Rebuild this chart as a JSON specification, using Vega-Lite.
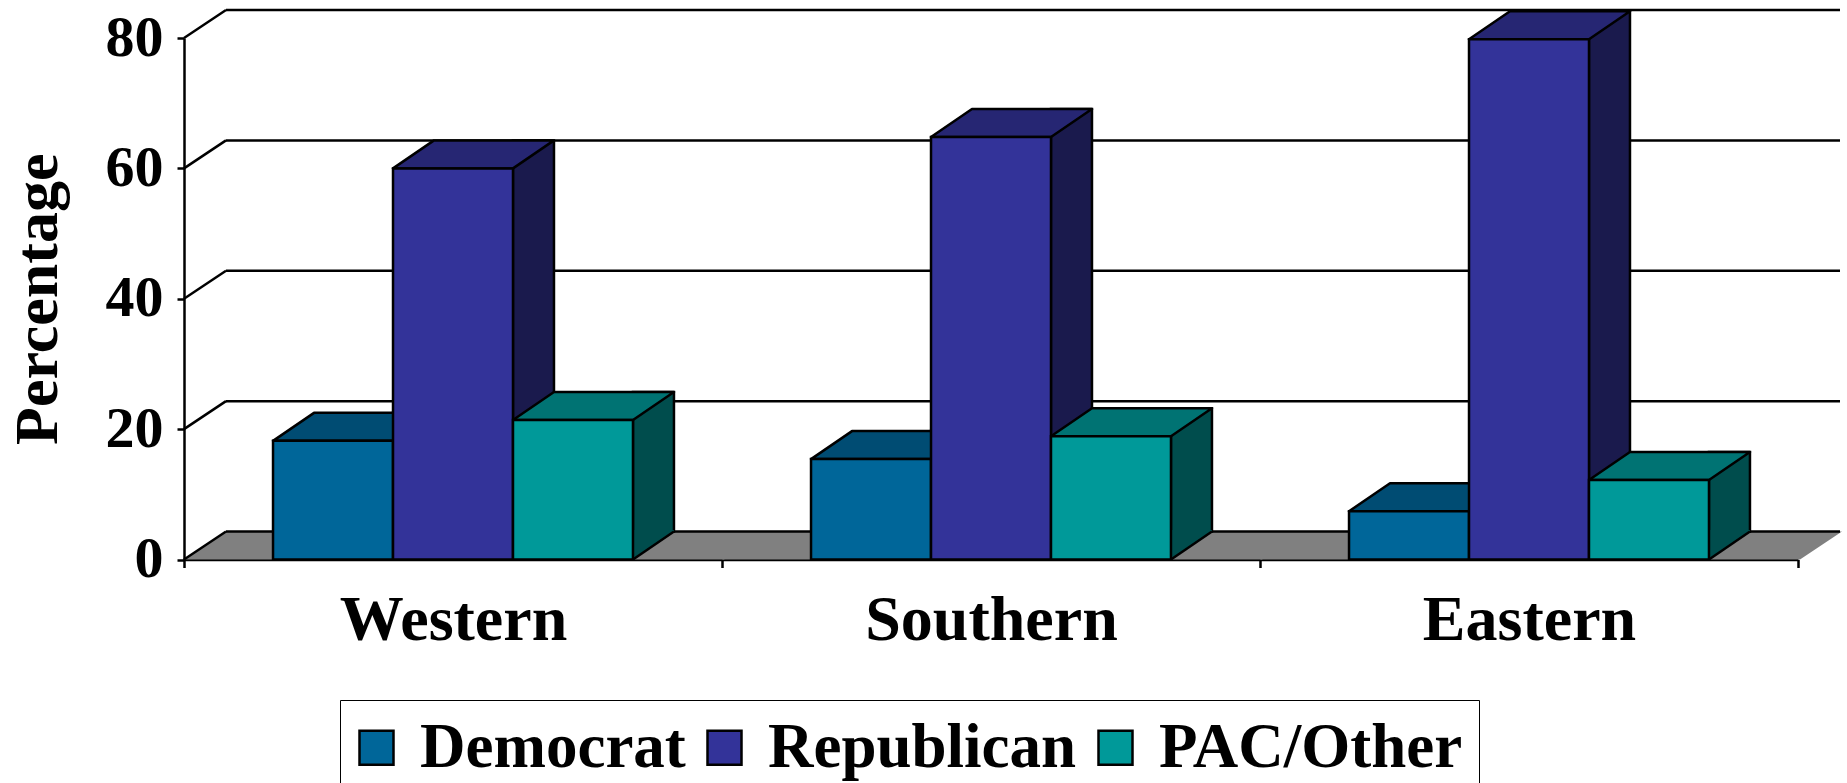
{
  "$schema": "https://vega.github.io/schema/vega-lite/v6.json",
  "width": 1614,
  "height": 521.5,
  "autosize": {"type": "none"},
  "padding": {"left": 184, "top": 38, "right": 49, "bottom": 223.5},
  "background": "white",
  "config": {
    "view": {"stroke": null},
    "font": "Liberation Serif",
    "axisY": {
      "zindex": 1, "tickCount": 4, "labelFont": "Liberation Serif", "labelFontSize": 58, "labelFontWeight": "bold", "labelColor": "black",
      "labelPadding": 14, "tickSize": 7, "tickWidth": 2.5, "tickColor": "black", "domainColor": "black", "domainWidth": 2.5,
      "grid": false, "titleFont": "Liberation Serif", "titleFontSize": 62, "titleFontWeight": "bold", "titleColor": "black", "titlePadding": 36
    },
    "axisX": {
      "zindex": 1, "labelAngle": 0, "labelFont": "Liberation Serif", "labelFontSize": 64, "labelFontWeight": "bold", "labelColor": "black",
      "labelBaseline": "alphabetic", "labelPadding": 72, "labelLimit": 0, "tickSize": 8, "tickWidth": 2.5, "tickColor": "black", "tickBand": "extent",
      "domainColor": "black", "domainWidth": 2.5, "grid": false
    }
  },
  "datasets": {
    "shares": [
      {"region": "Western", "party": "Democrat", "value": 18.2},
      {"region": "Western", "party": "Republican", "value": 60.0},
      {"region": "Western", "party": "PAC/Other", "value": 21.4},
      {"region": "Southern", "party": "Democrat", "value": 15.4},
      {"region": "Southern", "party": "Republican", "value": 64.8},
      {"region": "Southern", "party": "PAC/Other", "value": 18.9},
      {"region": "Eastern", "party": "Democrat", "value": 7.4},
      {"region": "Eastern", "party": "Republican", "value": 79.8},
      {"region": "Eastern", "party": "PAC/Other", "value": 12.2}
    ],
    "ticks": [{"v": 0}, {"v": 20}, {"v": 40}, {"v": 60}, {"v": 80}],
    "westEdge": [{"region": "Western"}],
    "eastEdge": [{"region": "Eastern"}]
  },
  "encoding": {
    "x": {"field": "region", "type": "nominal", "title": null,
          "scale": {"domain": ["Western", "Southern", "Eastern"], "paddingInner": 0, "paddingOuter": 0}},
    "y": {"field": "value", "type": "quantitative", "title": "Percentage",
          "scale": {"domain": [0, 80], "nice": false, "zero": true}}
  },
  "layer": [
    {
      "data": {"name": "shares"},
      "transform": [{"filter": "datum.party == 'Republican'"}],
      "mark": {"type": "point", "shape": "M -269 0 L 271 0 L 313 -28 L -227 -28 Z", "size": 4, "filled": true, "strokeWidth": 0, "opacity": 1},
      "encoding": {
        "xOffset": {"field": "party", "type": "nominal", "scale": {"type": "band", "domain": ["Democrat", "Republican", "PAC/Other"], "paddingInner": 0, "paddingOuter": 0.742}},
        "y": {"datum": 0, "type": "quantitative"},
        "fill": {"field": "party", "type": "nominal", "legend": null,
                 "scale": {"domain": ["Democrat", "Republican", "PAC/Other"], "range": ["#808080", "#808080", "#808080"]}}
      }
    },
    {
      "data": {"name": "westEdge"},
      "mark": {"type": "point", "shape": "M -269 0 L 1345 0 L 1387 -28 L -227 -28 Z", "size": 4, "filled": false,
               "stroke": "black", "strokeWidth": 2.5, "opacity": 1, "strokeJoin": "round"},
      "encoding": {
        "y": {"datum": 0, "type": "quantitative"}
      }
    },
    {
      "data": {"name": "ticks"},
      "mark": {"type": "rule", "stroke": "black", "strokeWidth": 2.5, "xOffset": -227, "x2Offset": 311, "yOffset": -28},
      "encoding": {
        "x": {"datum": "Western", "type": "nominal", "bandPosition": 0.5},
        "x2": {"datum": "Eastern", "bandPosition": 0.5},
        "y": {"field": "v", "type": "quantitative"}
      }
    },
    {
      "data": {"name": "ticks"},
      "mark": {"type": "rule", "stroke": "black", "strokeWidth": 2.5, "xOffset": -269, "x2Offset": -227, "y2Offset": -28},
      "encoding": {
        "x": {"datum": "Western", "type": "nominal", "bandPosition": 0.5},
        "x2": {"datum": "Western", "bandPosition": 0.5},
        "y": {"field": "v", "type": "quantitative"},
        "y2": {"field": "v"}
      }
    },
    {
      "data": {"name": "westEdge"},
      "mark": {"type": "rule", "stroke": "black", "strokeWidth": 2.5, "xOffset": -227, "yOffset": -28, "y2Offset": -28},
      "encoding": {
        "y": {"datum": 0, "type": "quantitative"},
        "y2": {"datum": 80}
      }
    },
    {
      "data": {"name": "eastEdge"},
      "mark": {"type": "rule", "stroke": "black", "strokeWidth": 2.5, "xOffset": 311, "yOffset": -28, "y2Offset": -28},
      "encoding": {
        "y": {"datum": 0, "type": "quantitative"},
        "y2": {"datum": 80}
      }
    },
    {
      "data": {"name": "shares"},
      "mark": {"type": "bar", "width": 41, "yOffset": -28, "y2Offset": -28, "stroke": "black", "strokeWidth": 2.5, "opacity": 1},
      "encoding": {
        "xOffset": {"field": "party", "type": "nominal", "scale": {"type": "band", "domain": ["Democrat", "Republican", "PAC/Other"], "paddingInner": 0, "paddingOuter": 0.742, "align": 0.952}},
        "y2": {"datum": 0},
        "fill": {"field": "party", "type": "nominal", "legend": null,
                 "scale": {"domain": ["Democrat", "Republican", "PAC/Other"], "range": ["#00334D", "#1A1A4D", "#004D4D"]}}
      }
    },
    {
      "data": {"name": "shares"},
      "mark": {"type": "point", "shape": "M 60 0 L 60 -29.5 L 101 -29.5 L 101 -28 Z", "size": 4, "filled": true, "strokeWidth": 0, "opacity": 1},
      "encoding": {
        "xOffset": {"field": "party", "type": "nominal", "scale": {"type": "band", "domain": ["Democrat", "Republican", "PAC/Other"], "paddingInner": 0, "paddingOuter": 0.742}},
        "y": {"datum": 0, "type": "quantitative"},
        "fill": {"field": "party", "type": "nominal", "legend": null,
                 "scale": {"domain": ["Democrat", "Republican", "PAC/Other"], "range": ["#00334D", "#1A1A4D", "#004D4D"]}}
      }
    },
    {
      "data": {"name": "shares"},
      "mark": {"type": "point", "shape": "M 60 0 L 101 -28", "size": 4, "filled": false, "stroke": "black", "strokeWidth": 2.5, "opacity": 1},
      "encoding": {
        "xOffset": {"field": "party", "type": "nominal", "scale": {"type": "band", "domain": ["Democrat", "Republican", "PAC/Other"], "paddingInner": 0, "paddingOuter": 0.742}},
        "y": {"datum": 0, "type": "quantitative"}
      }
    },
    {
      "data": {"name": "shares"},
      "mark": {"type": "point", "shape": "M -60 0 L 60 0 L 101 -28 L -19 -28 Z", "size": 4, "filled": true, "stroke": "black", "strokeWidth": 2.5, "opacity": 1, "strokeJoin": "round"},
      "encoding": {
        "xOffset": {"field": "party", "type": "nominal", "scale": {"type": "band", "domain": ["Democrat", "Republican", "PAC/Other"], "paddingInner": 0, "paddingOuter": 0.742}},
        "fill": {"field": "party", "type": "nominal", "legend": null,
                 "scale": {"domain": ["Democrat", "Republican", "PAC/Other"], "range": ["#004C73", "#262673", "#007373"]}}
      }
    },
    {
      "data": {"name": "shares"},
      "mark": {"type": "bar", "stroke": "black", "strokeWidth": 2.5, "opacity": 1},
      "encoding": {
        "xOffset": {"field": "party", "type": "nominal", "scale": {"type": "band", "domain": ["Democrat", "Republican", "PAC/Other"], "paddingInner": 0, "paddingOuter": 0.742}},
        "color": {"field": "party", "type": "nominal",
                  "scale": {"domain": ["Democrat", "Republican", "PAC/Other"], "range": ["#006699", "#333399", "#009999"]},
                  "legend": {"orient": "none", "legendX": 156, "legendY": 662, "direction": "horizontal", "title": null,
                             "symbolType": "square", "symbolSize": 1156, "symbolStrokeColor": "black", "symbolStrokeWidth": 2.5, "symbolOpacity": 1,
                             "symbolOffset": -11,
                             "labelFont": "Liberation Serif", "labelFontSize": 63, "labelFontWeight": "bold", "labelColor": "black", "labelLimit": 0,
                             "labelOffset": 12, "columnPadding": 16, "padding": 16, "strokeColor": "black"}}
      }
    }
  ],
  "resolve": {"scale": {"fill": "independent", "xOffset": "independent"}}
}
